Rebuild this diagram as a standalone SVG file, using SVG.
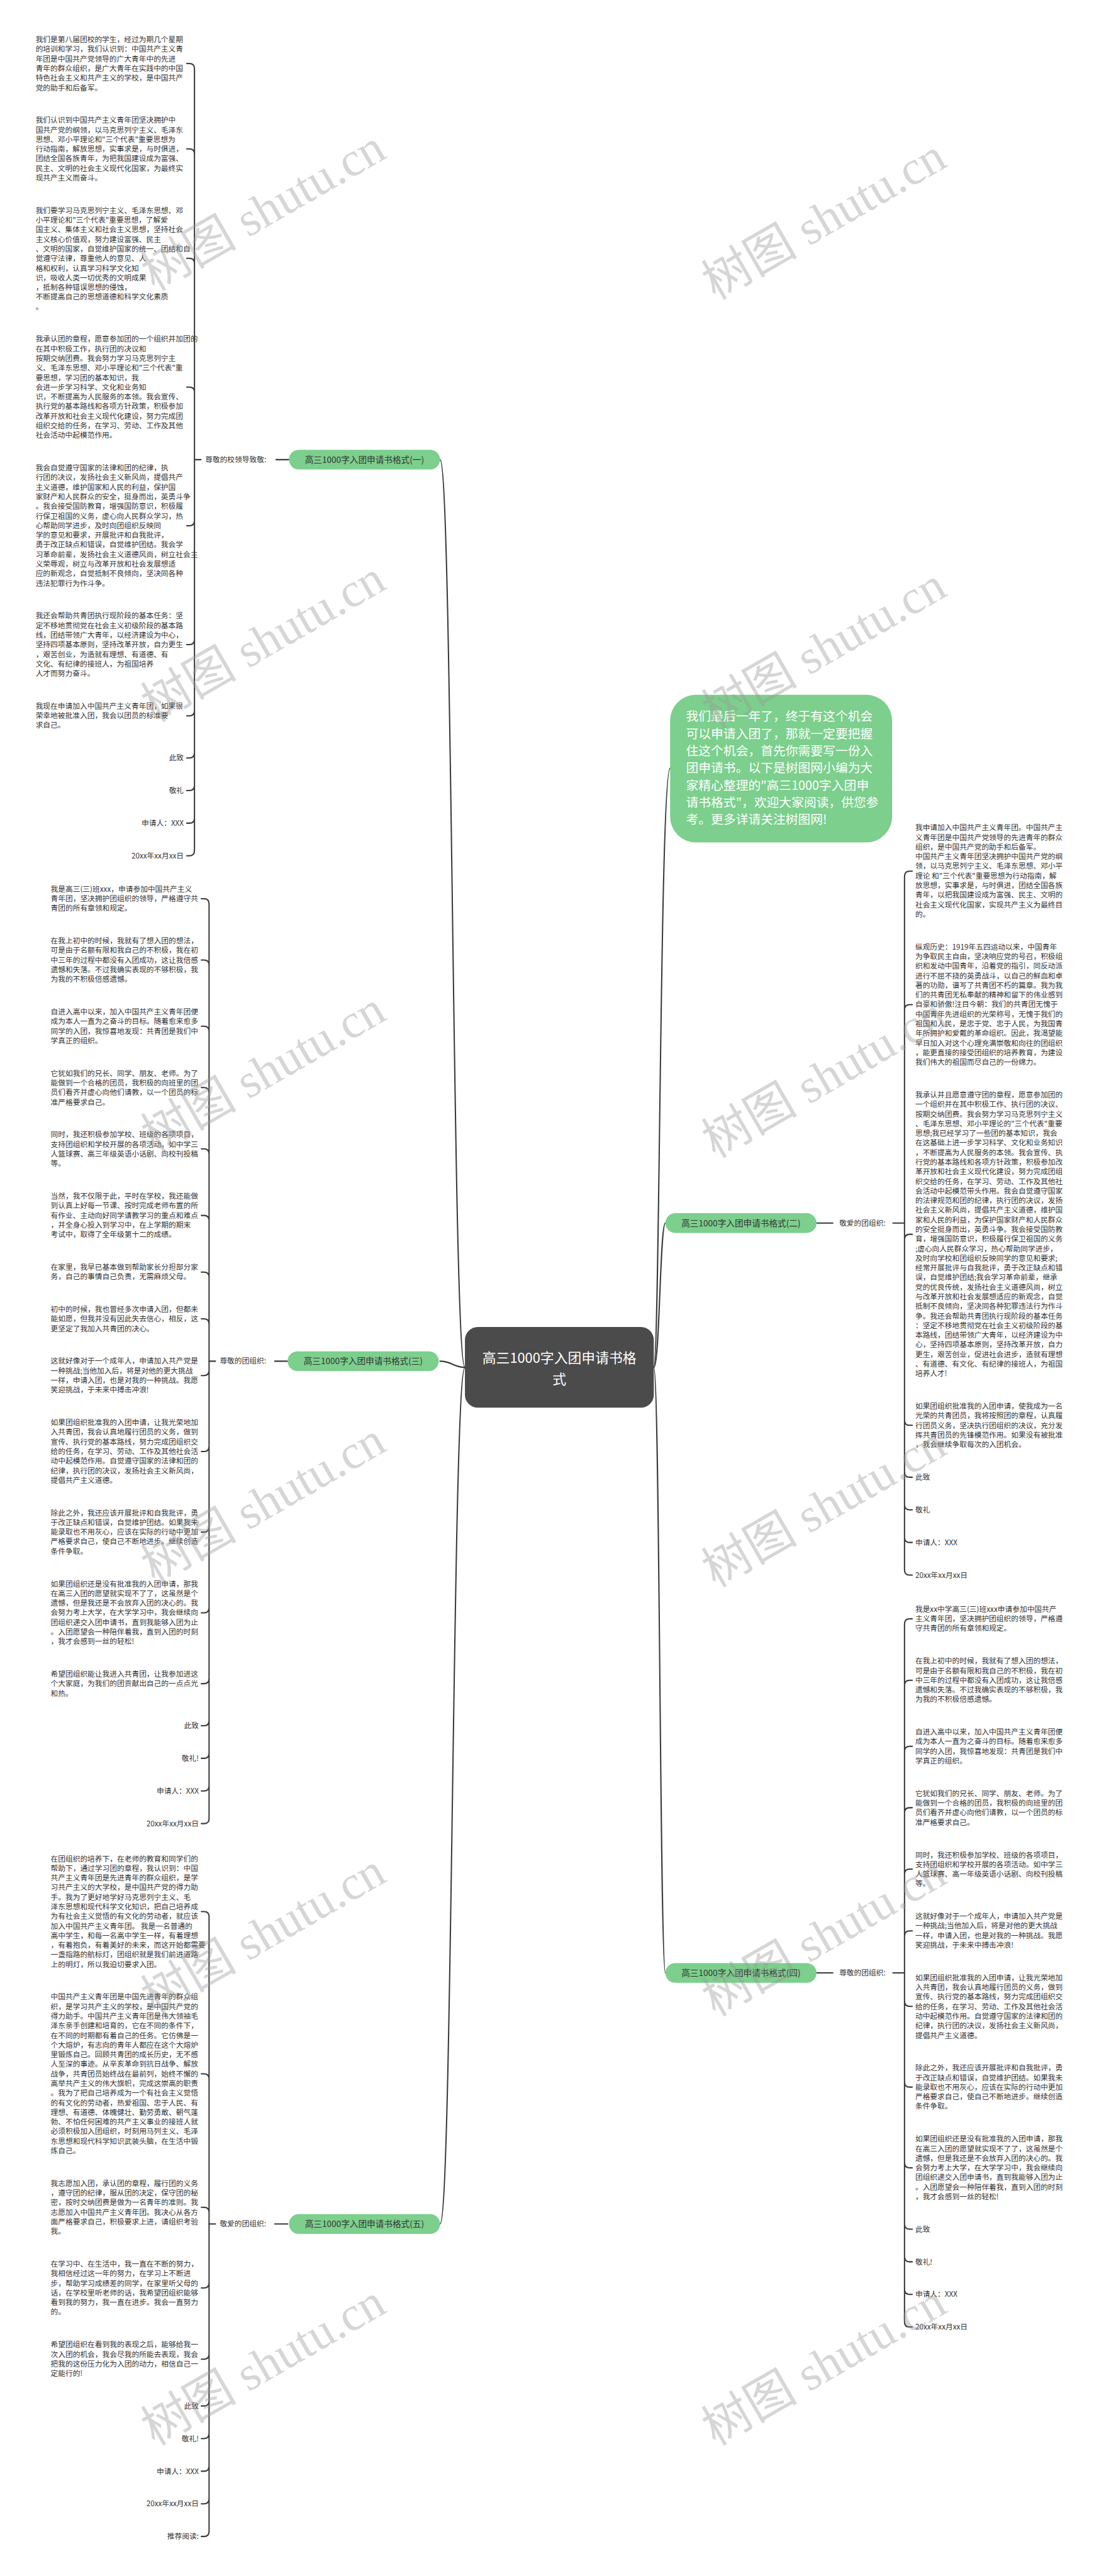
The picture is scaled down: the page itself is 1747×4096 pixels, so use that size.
<svg xmlns="http://www.w3.org/2000/svg" width="1747" height="4096" viewBox="0 0 1747 4096">
<style>
.t{font-family:"Noto Sans CJK SC","Noto Sans",sans-serif;font-size:17.2px;fill:#333}
.e{text-anchor:end}
.lb{font-family:"Noto Sans CJK SC","Noto Sans",sans-serif;font-size:17.2px;fill:#333}
.ln{fill:none;stroke:#3a3a3a;stroke-width:3;stroke-linecap:round}
.nd{fill:#7ccf8c}
.nt{font-family:"Noto Sans CJK SC","Noto Sans",sans-serif;font-size:20px;fill:#333;text-anchor:middle}
.wm{font-family:"Liberation Serif","Noto Sans CJK SC",serif;font-size:112px;fill:#9a9a9a;opacity:.4}
</style>
<rect width="1747" height="4096" fill="#ffffff"/>
<g transform="scale(0.68242)">
<g id="connectors">
<path class="ln" d="M1083 3186C1054 3186 1054 1071 1025 1071"/>
<path class="ln" d="M1083 3186C1054 3186 1054 3171.6 1025 3171.6"/>
<path class="ln" d="M1083 3186C1054 3186 1054 5182 1025 5182"/>
<path class="ln" d="M1523 3186C1537 3186 1537 1790 1561 1790"/>
<path class="ln" d="M1523 3186C1537 3186 1537 2849.8 1550 2849.8"/>
<path class="ln" d="M1523 3186C1537 3186 1537 4597 1550 4597"/>
<path class="ln" d="M643 1071H673M453 1071H468"/>
<path class="ln" d="M640 3171.6H670M487 3171.6H502"/>
<path class="ln" d="M640 5182H670M487 5182H502"/>
<path class="ln" d="M1902 2849.8H1940M2080 2849.8H2107"/>
<path class="ln" d="M1902 4597H1940M2080 4597H2107"/>
<path class="ln" d="M453 160V1982M453 160Q453 148 441 148H435M453 359Q453 347 441 347H435M453 614Q453 602 441 602H435M453 914Q453 902 441 902H435M453 1213Q453 1225 441 1225H435M453 1490Q453 1502 441 1502H435M453 1656Q453 1668 441 1668H435M453 1754Q453 1766 441 1766H435M453 1830Q453 1842 441 1842H435M453 1906Q453 1918 441 1918H435M453 1982Q453 1994 441 1994H435"/>
<path class="ln" d="M487 2106V4237M487 2106Q487 2094 475 2094H469M487 2249Q487 2237 475 2237H469M487 2403Q487 2391 475 2391H469M487 2546Q487 2534 475 2534H469M487 2689Q487 2677 475 2677H469M487 2844Q487 2832 475 2832H469M487 2976Q487 2964 475 2964H469M487 3085Q487 3073 475 3073H469M487 3193Q487 3205 475 3205H469M487 3370Q487 3382 475 3382H469M487 3558Q487 3570 475 3570H469M487 3746Q487 3758 475 3758H469M487 3911Q487 3923 475 3923H469M487 4009Q487 4021 475 4021H469M487 4085Q487 4097 475 4097H469M487 4161Q487 4173 475 4173H469M487 4237Q487 4249 475 4249H469"/>
<path class="ln" d="M487 4466V5898M487 4466Q487 4454 475 4454H469M487 4844Q487 4832 475 4832H469M487 5155Q487 5143 475 5143H469M487 5319Q487 5331 475 5331H469M487 5485Q487 5497 475 5497H469M487 5594Q487 5606 475 5606H469M487 5670Q487 5682 475 5682H469M487 5746Q487 5758 475 5758H469M487 5822Q487 5834 475 5834H469M487 5898Q487 5910 475 5910H469"/>
<path class="ln" d="M2107 2042V3658M2107 2042Q2107 2030 2119 2030H2125M2107 2353Q2107 2341 2119 2341H2125M2107 2888Q2107 2876 2119 2876H2125M2107 3309Q2107 3321 2119 3321H2125M2107 3430Q2107 3442 2119 3442H2125M2107 3506Q2107 3518 2119 3518H2125M2107 3582Q2107 3594 2119 3594H2125M2107 3658Q2107 3670 2119 3670H2125"/>
<path class="ln" d="M2107 3784V5410M2107 3784Q2107 3772 2119 3772H2125M2107 3927Q2107 3915 2119 3915H2125M2107 4081Q2107 4069 2119 4069H2125M2107 4224Q2107 4212 2119 4212H2125M2107 4367Q2107 4355 2119 4355H2125M2107 4511Q2107 4499 2119 4499H2125M2107 4663Q2107 4675 2119 4675H2125M2107 4851Q2107 4863 2119 4863H2125M2107 5039Q2107 5051 2119 5051H2125M2107 5182Q2107 5194 2119 5194H2125M2107 5258Q2107 5270 2119 5270H2125M2107 5334Q2107 5346 2119 5346H2125M2107 5410Q2107 5422 2119 5422H2125"/>
</g>
<g id="root">
<rect x="1083" y="3092" width="440" height="188" rx="30" fill="#4b4b4b"/>
<text font-family="Noto Sans CJK SC, sans-serif" font-size="32" fill="#fff" text-anchor="middle"><tspan x="1303" y="3176">高三1000字入团申请书格</tspan><tspan x="1303" y="3226">式</tspan></text>
</g>
<g id="intro">
<rect x="1561" y="1619" width="517" height="344" rx="60" class="nd"/>
<text font-family="Noto Sans CJK SC, sans-serif" font-size="29" fill="#fff"><tspan x="1598" y="1680">我们最后一年了，终于有这个机会</tspan><tspan x="1598" y="1720">可以申请入团了，那就一定要把握</tspan><tspan x="1598" y="1760">住这个机会，首先你需要写一份入</tspan><tspan x="1598" y="1800">团申请书。以下是树图网小编为大</tspan><tspan x="1598" y="1840">家精心整理的"高三1000字入团申</tspan><tspan x="1598" y="1880">请书格式"，欢迎大家阅读，供您参</tspan><tspan x="1598" y="1920">考。更多详请关注树图网!</tspan></text>
</g>
<g id="node1">
<rect x="673" y="1048" width="352" height="46" rx="23" class="nd"/>
<text class="nt" x="849" y="1078">高三1000字入团申请书格式(一)</text>
<text class="lb" x="478" y="1077">尊敬的校领导致敬:</text>
<text class="t"><tspan x="83" y="98.3">我们是第八届团校的学生，经过为期几个星期</tspan><tspan x="83" dy="22.4">的培训和学习，我们认识到：中国共产主义青</tspan><tspan x="83" dy="22.4">年团是中国共产党领导的广大青年中的先进</tspan><tspan x="83" dy="22.4">青年的群众组织，是广大青年在实践中的中国</tspan><tspan x="83" dy="22.4">特色社会主义和共产主义的学校，是中国共产</tspan><tspan x="83" dy="22.4">党的助手和后备军。</tspan></text>
<text class="t"><tspan x="83" y="286.2">我们认识到中国共产主义青年团坚决拥护中</tspan><tspan x="83" dy="22.4">国共产党的纲领，以马克思列宁主义、毛泽东</tspan><tspan x="83" dy="22.4">思想、邓小平理论和"三个代表"重要思想为</tspan><tspan x="83" dy="22.4">行动指南，解放思想，实事求是，与时俱进，</tspan><tspan x="83" dy="22.4">团结全国各族青年，为把我国建设成为富强、</tspan><tspan x="83" dy="22.4">民主、文明的社会主义现代化国家，为最终实</tspan><tspan x="83" dy="22.4">现共产主义而奋斗。</tspan></text>
<text class="t"><tspan x="83" y="496.5">我们要学习马克思列宁主义、毛泽东思想、邓</tspan><tspan x="83" dy="22.4">小平理论和"三个代表"重要思想，了解爱</tspan><tspan x="83" dy="22.4">国主义、集体主义和社会主义思想，坚持社会</tspan><tspan x="83" dy="22.4">主义核心价值观，努力建设富强、民主</tspan><tspan x="83" dy="22.4">、文明的国家，自觉维护国家的统一、团结和自</tspan><tspan x="83" dy="22.4">觉遵守法律，尊重他人的意见、人</tspan><tspan x="83" dy="22.4">格和权利，认真学习科学文化知</tspan><tspan x="83" dy="22.4">识，吸收人类一切优秀的文明成果</tspan><tspan x="83" dy="22.4">，抵制各种错误思想的侵蚀，</tspan><tspan x="83" dy="22.4">不断提高自己的思想道德和科学文化素质</tspan><tspan x="83" dy="22.4">。</tspan></text>
<text class="t"><tspan x="83" y="796.4">我承认团的章程，愿意参加团的一个组织并加团的</tspan><tspan x="83" dy="22.4">在其中积极工作，执行团的决议和</tspan><tspan x="83" dy="22.4">按期交纳团费。我会努力学习马克思列宁主</tspan><tspan x="83" dy="22.4">义、毛泽东思想、邓小平理论和"三个代表"重</tspan><tspan x="83" dy="22.4">要思想，学习团的基本知识，我</tspan><tspan x="83" dy="22.4">会进一步学习科学、文化和业务知</tspan><tspan x="83" dy="22.4">识，不断提高为人民服务的本领。我会宣传、</tspan><tspan x="83" dy="22.4">执行党的基本路线和各项方针政策，积极参加</tspan><tspan x="83" dy="22.4">改革开放和社会主义现代化建设，努力完成团</tspan><tspan x="83" dy="22.4">组织交给的任务，在学习、劳动、工作及其他</tspan><tspan x="83" dy="22.4">社会活动中起模范作用。</tspan></text>
<text class="t"><tspan x="83" y="1096.3">我会自觉遵守国家的法律和团的纪律，执</tspan><tspan x="83" dy="22.4">行团的决议，发扬社会主义新风尚，提倡共产</tspan><tspan x="83" dy="22.4">主义道德，维护国家和人民的利益，保护国</tspan><tspan x="83" dy="22.4">家财产和人民群众的安全，挺身而出，英勇斗争</tspan><tspan x="83" dy="22.4">。我会接受国防教育，增强国防意识，积极履</tspan><tspan x="83" dy="22.4">行保卫祖国的义务，虚心向人民群众学习，热</tspan><tspan x="83" dy="22.4">心帮助同学进步，及时向团组织反映同</tspan><tspan x="83" dy="22.4">学的意见和要求，开展批评和自我批评，</tspan><tspan x="83" dy="22.4">勇于改正缺点和错误，自觉维护团结。我会学</tspan><tspan x="83" dy="22.4">习革命前辈，发扬社会主义道德风尚，树立社会主</tspan><tspan x="83" dy="22.4">义荣辱观，树立与改革开放和社会发展想适</tspan><tspan x="83" dy="22.4">应的新观念，自觉抵制不良倾向，坚决同各种</tspan><tspan x="83" dy="22.4">违法犯罪行为作斗争。</tspan></text>
<text class="t"><tspan x="83" y="1441">我还会帮助共青团执行现阶段的基本任务：坚</tspan><tspan x="83" dy="22.4">定不移地贯彻党在社会主义初级阶段的基本路</tspan><tspan x="83" dy="22.4">线，团结带领广大青年，以经济建设为中心，</tspan><tspan x="83" dy="22.4">坚持四项基本原则，坚持改革开放，自力更生</tspan><tspan x="83" dy="22.4">，艰苦创业，为造就有理想、有道德、有</tspan><tspan x="83" dy="22.4">文化、有纪律的接班人，为祖国培养</tspan><tspan x="83" dy="22.4">人才而努力奋斗。</tspan></text>
<text class="t"><tspan x="83" y="1651.3">我现在申请加入中国共产主义青年团，如果很</tspan><tspan x="83" dy="22.4">荣幸地被批准入团，我会以团员的标准要</tspan><tspan x="83" dy="22.4">求自己。</tspan></text>
<text class="t e" x="428" y="1772">此致</text>
<text class="t e" x="428" y="1848">敬礼</text>
<text class="t e" x="428" y="1924">申请人：XXX</text>
<text class="t e" x="428" y="2000">20xx年xx月xx日</text>
</g>
<g id="node3">
<rect x="670" y="3148.6" width="352" height="46" rx="23" class="nd"/>
<text class="nt" x="846" y="3178.6">高三1000字入团申请书格式(三)</text>
<text class="lb" x="512" y="3177.6">尊敬的团组织:</text>
<text class="t"><tspan x="118" y="2077.6">我是高三(三)班xxx，申请参加中国共产主义</tspan><tspan x="118" dy="22.4">青年团，坚决拥护团组织的领导，严格遵守共</tspan><tspan x="118" dy="22.4">青团的所有章领和规定。</tspan></text>
<text class="t"><tspan x="118" y="2198.3">在我上初中的时候，我就有了想入团的想法，</tspan><tspan x="118" dy="22.4">可是由于名额有限和我自己的不积极，我在初</tspan><tspan x="118" dy="22.4">中三年的过程中都没有入团成功，这让我倍感</tspan><tspan x="118" dy="22.4">遗憾和失落。不过我确实表现的不够积极，我</tspan><tspan x="118" dy="22.4">为我的不积极倍感遗憾。</tspan></text>
<text class="t"><tspan x="118" y="2363.8">自进入高中以来，加入中国共产主义青年团便</tspan><tspan x="118" dy="22.4">成为本人一直为之奋斗的目标。随着愈来愈多</tspan><tspan x="118" dy="22.4">同学的入团，我惊喜地发现：共青团是我们中</tspan><tspan x="118" dy="22.4">学真正的组织。</tspan></text>
<text class="t"><tspan x="118" y="2506.9">它犹如我们的兄长、同学、朋友、老师。为了</tspan><tspan x="118" dy="22.4">能做到一个合格的团员，我积极的向班里的团</tspan><tspan x="118" dy="22.4">员们看齐并虚心向他们请教，以一个团员的标</tspan><tspan x="118" dy="22.4">准严格要求自己。</tspan></text>
<text class="t"><tspan x="118" y="2650">同时，我还积极参加学校、班级的各项项目，</tspan><tspan x="118" dy="22.4">支持团组织和学校开展的各项活动。如中学三</tspan><tspan x="118" dy="22.4">人篮球赛、高三年级英语小话剧、向校刊投稿</tspan><tspan x="118" dy="22.4">等。</tspan></text>
<text class="t"><tspan x="118" y="2793.1">当然，我不仅限于此，平时在学校，我还能做</tspan><tspan x="118" dy="22.4">到认真上好每一节课、按时完成老师布置的所</tspan><tspan x="118" dy="22.4">有作业、主动向好同学请教学习的重点和难点</tspan><tspan x="118" dy="22.4">，并全身心投入到学习中，在上学期的期末</tspan><tspan x="118" dy="22.4">考试中，取得了全年级第十二的成绩。</tspan></text>
<text class="t"><tspan x="118" y="2958.6">在家里，我早已基本做到帮助家长分担部分家</tspan><tspan x="118" dy="22.4">务，自己的事情自己负责，无需麻烦父母。</tspan></text>
<text class="t"><tspan x="118" y="3056.9">初中的时候，我也曾经多次申请入团，但都未</tspan><tspan x="118" dy="22.4">能如愿，但我并没有因此失去信心，相反，这</tspan><tspan x="118" dy="22.4">更坚定了我加入共青团的决心。</tspan></text>
<text class="t"><tspan x="118" y="3177.6">这就好像对于一个成年人，申请加入共产党是</tspan><tspan x="118" dy="22.4">一种挑战;当他加入后，将是对他的更大挑战</tspan><tspan x="118" dy="22.4">一样，申请入团，也是对我的一种挑战。我愿</tspan><tspan x="118" dy="22.4">笑迎挑战，于未来中搏击冲浪!</tspan></text>
<text class="t"><tspan x="118" y="3320.7">如果团组织批准我的入团申请，让我光荣地加</tspan><tspan x="118" dy="22.4">入共青团，我会认真地履行团员的义务，做到</tspan><tspan x="118" dy="22.4">宣传、执行党的基本路线，努力完成团组织交</tspan><tspan x="118" dy="22.4">给的任务，在学习、劳动、工作及其他社会活</tspan><tspan x="118" dy="22.4">动中起模范作用。自觉遵守国家的法律和团的</tspan><tspan x="118" dy="22.4">纪律，执行团的决议，发扬社会主义新风尚，</tspan><tspan x="118" dy="22.4">提倡共产主义道德。</tspan></text>
<text class="t"><tspan x="118" y="3531">除此之外，我还应该开展批评和自我批评，勇</tspan><tspan x="118" dy="22.4">于改正缺点和错误，自觉维护团结。如果我未</tspan><tspan x="118" dy="22.4">能录取也不用灰心，应该在实际的行动中更加</tspan><tspan x="118" dy="22.4">严格要求自己，使自己不断地进步。继续创造</tspan><tspan x="118" dy="22.4">条件争取。</tspan></text>
<text class="t"><tspan x="118" y="3696.5">如果团组织还是没有批准我的入团申请，那我</tspan><tspan x="118" dy="22.4">在高三入团的愿望就实现不了了，这虽然是个</tspan><tspan x="118" dy="22.4">遗憾，但是我还是不会放弃入团的决心的。我</tspan><tspan x="118" dy="22.4">会努力考上大学，在大学学习中，我会继续向</tspan><tspan x="118" dy="22.4">团组织递交入团申请书，直到我能够入团为止</tspan><tspan x="118" dy="22.4">。入团愿望会一种陪伴着我，直到入团的时刻</tspan><tspan x="118" dy="22.4">，我才会感到一丝的轻松!</tspan></text>
<text class="t"><tspan x="118" y="3906.8">希望团组织能让我进入共青团，让我参加进这</tspan><tspan x="118" dy="22.4">个大家庭，为我们的团贡献出自己的一点点光</tspan><tspan x="118" dy="22.4">和热。</tspan></text>
<text class="t e" x="463" y="4027.5">此致</text>
<text class="t e" x="463" y="4103.4">敬礼!</text>
<text class="t e" x="463" y="4179.3">申请人：XXX</text>
<text class="t e" x="463" y="4255.2">20xx年xx月xx日</text>
</g>
<g id="node5">
<rect x="673" y="5159" width="352" height="46" rx="23" class="nd"/>
<text class="nt" x="849" y="5189">高三1000字入团申请书格式(五)</text>
<text class="lb" x="512" y="5188">敬爱的团组织:</text>
<text class="t"><tspan x="118" y="4336.8">在团组织的培养下，在老师的教育和同学们的</tspan><tspan x="118" dy="22.4">帮助下，通过学习团的章程，我认识到：中国</tspan><tspan x="118" dy="22.4">共产主义青年团是先进青年的群众组织，是学</tspan><tspan x="118" dy="22.4">习共产主义的大学校，是中国共产党的得力助</tspan><tspan x="118" dy="22.4">手。我为了更好地学好马克思列宁主义、毛</tspan><tspan x="118" dy="22.4">泽东思想和现代科学文化知识，把自己培养成</tspan><tspan x="118" dy="22.4">为有社会主义觉悟的有文化的劳动者，就应该</tspan><tspan x="118" dy="22.4">加入中国共产主义青年团。 我是一名普通的</tspan><tspan x="118" dy="22.4">高中学生，和每一名高中学生一样，有着理想</tspan><tspan x="118" dy="22.4">，有着抱负，有着美好的未来，而这开始都需要</tspan><tspan x="118" dy="22.4">一盏指路的航标灯，团组织就是我们前进道路</tspan><tspan x="118" dy="22.4">上的明灯，所以我迫切要求入团。</tspan></text>
<text class="t"><tspan x="118" y="4659.1">中国共产主义青年团是中国先进青年的群众组</tspan><tspan x="118" dy="22.4">织，是学习共产主义的学校，是中国共产党的</tspan><tspan x="118" dy="22.4">得力助手。中国共产主义青年团是伟大领袖毛</tspan><tspan x="118" dy="22.4">泽东亲手创建和培育的，它在不同的条件下，</tspan><tspan x="118" dy="22.4">在不同的时期都有着自己的任务。它仿佛是一</tspan><tspan x="118" dy="22.4">个大熔炉，有志向的青年人都应在这个大熔炉</tspan><tspan x="118" dy="22.4">里锻炼自己。回顾共青团的成长历史，无不感</tspan><tspan x="118" dy="22.4">人至深的事迹。从辛亥革命到抗日战争、解放</tspan><tspan x="118" dy="22.4">战争，共青团员始终战在最前列，始终不懈的</tspan><tspan x="118" dy="22.4">高举共产主义的伟大旗帜，完成这崇高的职责</tspan><tspan x="118" dy="22.4">。我为了把自己培养成为一个有社会主义觉悟</tspan><tspan x="118" dy="22.4">的有文化的劳动者，热爱祖国、忠于人民、有</tspan><tspan x="118" dy="22.4">理想、有道德、体魄健壮、勤劳勇敢、朝气蓬</tspan><tspan x="118" dy="22.4">勃、不怕任何困难的共产主义事业的接班人就</tspan><tspan x="118" dy="22.4">必须积极加入团组织，时刻用马列主义、毛泽</tspan><tspan x="118" dy="22.4">东思想和现代科学知识武装头脑，在生活中锻</tspan><tspan x="118" dy="22.4">炼自己。</tspan></text>
<text class="t"><tspan x="118" y="5093.4">我志愿加入团，承认团的章程，履行团的义务</tspan><tspan x="118" dy="22.4">，遵守团的纪律，服从团的决定，保守团的秘</tspan><tspan x="118" dy="22.4">密，按时交纳团费是做为一名青年的准则。我</tspan><tspan x="118" dy="22.4">志愿加入中国共产主义青年团。我决心从各方</tspan><tspan x="118" dy="22.4">面严格要求自己，积极要求上进，请组织考验</tspan><tspan x="118" dy="22.4">我。</tspan></text>
<text class="t"><tspan x="118" y="5281.3">在学习中、在生活中，我一直在不断的努力，</tspan><tspan x="118" dy="22.4">我相信经过这一年的努力，在学习上不断进</tspan><tspan x="118" dy="22.4">步，帮助学习成绩差的同学，在家里听父母的</tspan><tspan x="118" dy="22.4">话，在学校里听老师的话，我希望团组织能够</tspan><tspan x="118" dy="22.4">看到我的努力，我一直在进步。我会一直努力</tspan><tspan x="118" dy="22.4">的。</tspan></text>
<text class="t"><tspan x="118" y="5469.2">希望团组织在看到我的表现之后，能够给我一</tspan><tspan x="118" dy="22.4">次入团的机会，我会尽我的所能去表现，我会</tspan><tspan x="118" dy="22.4">把我的这份压力化为入团的动力，相信自己一</tspan><tspan x="118" dy="22.4">定能行的!</tspan></text>
<text class="t e" x="463" y="5612.3">此致</text>
<text class="t e" x="463" y="5688.2">敬礼!</text>
<text class="t e" x="463" y="5764.1">申请人：XXX</text>
<text class="t e" x="463" y="5840">20xx年xx月xx日</text>
<text class="t e" x="463" y="5915.9">推荐阅读:</text>
</g>
<g id="node2">
<rect x="1550" y="2826.8" width="352" height="46" rx="23" class="nd"/>
<text class="nt" x="1726" y="2856.8">高三1000字入团申请书格式(二)</text>
<text class="lb" x="1955" y="2855.8">敬爱的团组织:</text>
<text class="t"><tspan x="2132" y="1934.8">我申请加入中国共产主义青年团。中国共产主</tspan><tspan x="2132" dy="22.4">义青年团是中国共产党领导的先进青年的群众</tspan><tspan x="2132" dy="22.4">组织，是中国共产党的助手和后备军。</tspan><tspan x="2132" dy="22.4">中国共产主义青年团坚决拥护中国共产党的纲</tspan><tspan x="2132" dy="22.4">领，以马克思列宁主义、毛泽东思想、邓小平</tspan><tspan x="2132" dy="22.4">理论 和"三个代表"重要思想为行动指南，解</tspan><tspan x="2132" dy="22.4">放思想，实事求是，与时俱进，团结全国各族</tspan><tspan x="2132" dy="22.4">青年，以把我国建设成为富强、民主、文明的</tspan><tspan x="2132" dy="22.4">社会主义现代化国家，实现共产主义为最终目</tspan><tspan x="2132" dy="22.4">的。</tspan></text>
<text class="t"><tspan x="2132" y="2212.3">纵观历史：1919年五四运动以来，中国青年</tspan><tspan x="2132" dy="22.4">为争取民主自由，坚决响应党的号召，积极组</tspan><tspan x="2132" dy="22.4">织和发动中国青年，沿着党的指引，同反动派</tspan><tspan x="2132" dy="22.4">进行不屈不挠的英勇战斗，以自己的鲜血和卓</tspan><tspan x="2132" dy="22.4">著的功勋，谱写了共青团不朽的篇章。我为我</tspan><tspan x="2132" dy="22.4">们的共青团无私奉献的精神和留下的伟业感到</tspan><tspan x="2132" dy="22.4">自豪和骄傲!注目今朝：我们的共青团无愧于</tspan><tspan x="2132" dy="22.4">中国青年先进组织的光荣称号，无愧于我们的</tspan><tspan x="2132" dy="22.4">祖国和人民，是忠于党、忠于人民，为我国青</tspan><tspan x="2132" dy="22.4">年所拥护和爱戴的革命组织。因此，我渴望能</tspan><tspan x="2132" dy="22.4">早日加入对这个心理充满崇敬和向往的团组织</tspan><tspan x="2132" dy="22.4">，能更直接的接受团组织的培养教育，为建设</tspan><tspan x="2132" dy="22.4">我们伟大的祖国而尽自己的一份绵力。</tspan></text>
<text class="t"><tspan x="2132" y="2557">我承认并且愿意遵守团的章程，愿意参加团的</tspan><tspan x="2132" dy="22.4">一个组织并在其中积极工作、执行团的决议、</tspan><tspan x="2132" dy="22.4">按期交纳团费。我会努力学习马克思列宁主义</tspan><tspan x="2132" dy="22.4">、毛泽东思想、邓小平理论的"三个代表"重要</tspan><tspan x="2132" dy="22.4">思想;我已经学习了一些团的基本知识，我会</tspan><tspan x="2132" dy="22.4">在这基础上进一步学习科学、文化和业务知识</tspan><tspan x="2132" dy="22.4">，不断提高为人民服务的本领。我会宣传、执</tspan><tspan x="2132" dy="22.4">行党的基本路线和各项方针政策，积极参加改</tspan><tspan x="2132" dy="22.4">革开放和社会主义现代化建设，努力完成团组</tspan><tspan x="2132" dy="22.4">织交给的任务，在学习、劳动、工作及其他社</tspan><tspan x="2132" dy="22.4">会活动中起模范带头作用。我会自觉遵守国家</tspan><tspan x="2132" dy="22.4">的法律规范和团的纪律，执行团的决议，发扬</tspan><tspan x="2132" dy="22.4">社会主义新风尚，提倡共产主义道德，维护国</tspan><tspan x="2132" dy="22.4">家和人民的利益，为保护国家财产和人民群众</tspan><tspan x="2132" dy="22.4">的安全挺身而出，英勇斗争。我会接受国防教</tspan><tspan x="2132" dy="22.4">育，增强国防意识，积极履行保卫祖国的义务</tspan><tspan x="2132" dy="22.4">;虚心向人民群众学习，热心帮助同学进步，</tspan><tspan x="2132" dy="22.4">及时向学校和团组织反映同学的意见和要求;</tspan><tspan x="2132" dy="22.4">经常开展批评与自我批评，勇于改正缺点和错</tspan><tspan x="2132" dy="22.4">误，自觉维护团结;我会学习革命前辈，继承</tspan><tspan x="2132" dy="22.4">党的优良传统，发扬社会主义道德风尚，树立</tspan><tspan x="2132" dy="22.4">与改革开放和社会发展想适应的新观念，自觉</tspan><tspan x="2132" dy="22.4">抵制不良倾向，坚决同各种犯罪违法行为作斗</tspan><tspan x="2132" dy="22.4">争。我还会帮助共青团执行现阶段的基本任务</tspan><tspan x="2132" dy="22.4">：坚定不移地贯彻党在社会主义初级阶段的基</tspan><tspan x="2132" dy="22.4">本路线，团结带领广大青年，以经济建设为中</tspan><tspan x="2132" dy="22.4">心，坚持四项基本原则，坚持改革开放，自力</tspan><tspan x="2132" dy="22.4">更生，艰苦创业，促进社会进步，造就有理想</tspan><tspan x="2132" dy="22.4">、有道德、有文化、有纪律的接班人，为祖国</tspan><tspan x="2132" dy="22.4">培养人才!</tspan></text>
<text class="t"><tspan x="2132" y="3282.5">如果团组织批准我的入团申请，使我成为一名</tspan><tspan x="2132" dy="22.4">光荣的共青团员，我将按照团的章程，认真履</tspan><tspan x="2132" dy="22.4">行团员义务，坚决执行团组织的决议，充分发</tspan><tspan x="2132" dy="22.4">挥共青团员的先锋模范作用。如果没有被批准</tspan><tspan x="2132" dy="22.4">，我会继续争取每次的入团机会。</tspan></text>
<text class="t" x="2132" y="3448">此致</text>
<text class="t" x="2132" y="3524">敬礼</text>
<text class="t" x="2132" y="3600">申请人：XXX</text>
<text class="t" x="2132" y="3676">20xx年xx月xx日</text>
</g>
<g id="node4">
<rect x="1550" y="4574" width="352" height="46" rx="23" class="nd"/>
<text class="nt" x="1726" y="4604">高三1000字入团申请书格式(四)</text>
<text class="lb" x="1955" y="4603">尊敬的团组织:</text>
<text class="t"><tspan x="2132" y="3755.6">我是xx中学高三(三)班xxx申请参加中国共产</tspan><tspan x="2132" dy="22.4">主义青年团，坚决拥护团组织的领导，严格遵</tspan><tspan x="2132" dy="22.4">守共青团的所有章领和规定。</tspan></text>
<text class="t"><tspan x="2132" y="3876.3">在我上初中的时候，我就有了想入团的想法，</tspan><tspan x="2132" dy="22.4">可是由于名额有限和我自己的不积极，我在初</tspan><tspan x="2132" dy="22.4">中三年的过程中都没有入团成功，这让我倍感</tspan><tspan x="2132" dy="22.4">遗憾和失落。不过我确实表现的不够积极，我</tspan><tspan x="2132" dy="22.4">为我的不积极倍感遗憾。</tspan></text>
<text class="t"><tspan x="2132" y="4041.8">自进入高中以来，加入中国共产主义青年团便</tspan><tspan x="2132" dy="22.4">成为本人一直为之奋斗的目标。随着愈来愈多</tspan><tspan x="2132" dy="22.4">同学的入团，我惊喜地发现：共青团是我们中</tspan><tspan x="2132" dy="22.4">学真正的组织。</tspan></text>
<text class="t"><tspan x="2132" y="4184.9">它犹如我们的兄长、同学、朋友、老师。为了</tspan><tspan x="2132" dy="22.4">能做到一个合格的团员，我积极的向班里的团</tspan><tspan x="2132" dy="22.4">员们看齐并虚心向他们请教，以一个团员的标</tspan><tspan x="2132" dy="22.4">准严格要求自己。</tspan></text>
<text class="t"><tspan x="2132" y="4328">同时，我还积极参加学校、班级的各项项目，</tspan><tspan x="2132" dy="22.4">支持团组织和学校开展的各项活动。如中学三</tspan><tspan x="2132" dy="22.4">人篮球赛、高一年级英语小话剧、向校刊投稿</tspan><tspan x="2132" dy="22.4">等。</tspan></text>
<text class="t"><tspan x="2132" y="4471.1">这就好像对于一个成年人，申请加入共产党是</tspan><tspan x="2132" dy="22.4">一种挑战;当他加入后，将是对他的更大挑战</tspan><tspan x="2132" dy="22.4">一样，申请入团，也是对我的一种挑战。我愿</tspan><tspan x="2132" dy="22.4">笑迎挑战，于未来中搏击冲浪!</tspan></text>
<text class="t"><tspan x="2132" y="4614.2">如果团组织批准我的入团申请，让我光荣地加</tspan><tspan x="2132" dy="22.4">入共青团，我会认真地履行团员的义务，做到</tspan><tspan x="2132" dy="22.4">宣传、执行党的基本路线，努力完成团组织交</tspan><tspan x="2132" dy="22.4">给的任务，在学习、劳动、工作及其他社会活</tspan><tspan x="2132" dy="22.4">动中起模范作用。自觉遵守国家的法律和团的</tspan><tspan x="2132" dy="22.4">纪律，执行团的决议，发扬社会主义新风尚，</tspan><tspan x="2132" dy="22.4">提倡共产主义道德。</tspan></text>
<text class="t"><tspan x="2132" y="4824.5">除此之外，我还应该开展批评和自我批评，勇</tspan><tspan x="2132" dy="22.4">于改正缺点和错误，自觉维护团结。如果我未</tspan><tspan x="2132" dy="22.4">能录取也不用灰心，应该在实际的行动中更加</tspan><tspan x="2132" dy="22.4">严格要求自己，使自己不断地进步。继续创造</tspan><tspan x="2132" dy="22.4">条件争取。</tspan></text>
<text class="t"><tspan x="2132" y="4990">如果团组织还是没有批准我的入团申请，那我</tspan><tspan x="2132" dy="22.4">在高三入团的愿望就实现不了了，这虽然是个</tspan><tspan x="2132" dy="22.4">遗憾，但是我还是不会放弃入团的决心的。我</tspan><tspan x="2132" dy="22.4">会努力考上大学，在大学学习中，我会继续向</tspan><tspan x="2132" dy="22.4">团组织递交入团申请书，直到我能够入团为止</tspan><tspan x="2132" dy="22.4">。入团愿望会一种陪伴着我，直到入团的时刻</tspan><tspan x="2132" dy="22.4">，我才会感到一丝的轻松!</tspan></text>
<text class="t" x="2132" y="5200.3">此致</text>
<text class="t" x="2132" y="5276.2">敬礼!</text>
<text class="t" x="2132" y="5352.1">申请人：XXX</text>
<text class="t" x="2132" y="5428">20xx年xx月xx日</text>
</g>
<g id="watermarks">
<text class="wm" transform="translate(360 680) rotate(-30)">树图 shutu.cn</text>
<text class="wm" transform="translate(360 1684) rotate(-30)">树图 shutu.cn</text>
<text class="wm" transform="translate(360 2688) rotate(-30)">树图 shutu.cn</text>
<text class="wm" transform="translate(360 3692) rotate(-30)">树图 shutu.cn</text>
<text class="wm" transform="translate(360 4696) rotate(-30)">树图 shutu.cn</text>
<text class="wm" transform="translate(360 5700) rotate(-30)">树图 shutu.cn</text>
<text class="wm" transform="translate(1666 700) rotate(-30)">树图 shutu.cn</text>
<text class="wm" transform="translate(1666 1700) rotate(-30)">树图 shutu.cn</text>
<text class="wm" transform="translate(1666 2700) rotate(-30)">树图 shutu.cn</text>
<text class="wm" transform="translate(1666 3700) rotate(-30)">树图 shutu.cn</text>
<text class="wm" transform="translate(1666 4700) rotate(-30)">树图 shutu.cn</text>
<text class="wm" transform="translate(1666 5700) rotate(-30)">树图 shutu.cn</text>
</g>
</g>
</svg>
